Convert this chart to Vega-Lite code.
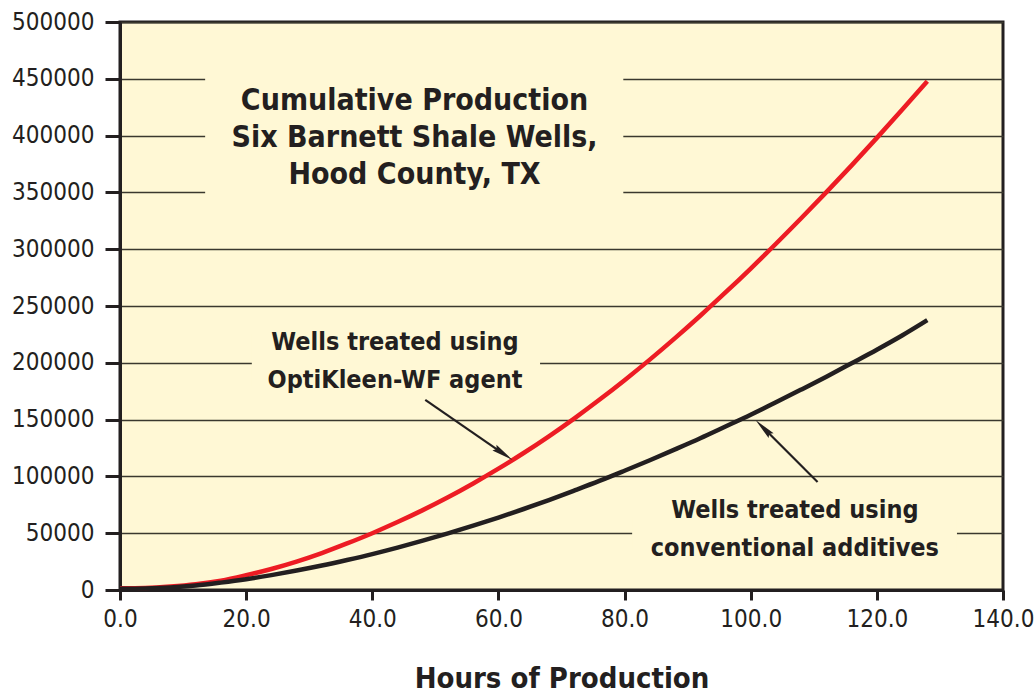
{
  "$schema": "https://vega.github.io/schema/vega-lite/v6.json",
  "width": 883,
  "height": 568,
  "autosize": "none",
  "padding": {"left": 120, "top": 22, "right": 32, "bottom": 108},
  "background": "#ffffff",
  "config": {
    "font": "DejaVu Sans Condensed, sans-serif",
    "view": {"fill": "#FFF8D5", "stroke": "#231F20", "strokeWidth": 3},
    "axis": {
      "labelFont": "DejaVu Sans Condensed, sans-serif",
      "titleFont": "DejaVu Sans Condensed, sans-serif",
      "labelColor": "#231F20",
      "titleColor": "#231F20",
      "domainColor": "#231F20",
      "tickColor": "#231F20",
      "domainWidth": 3,
      "tickWidth": 3,
      "labelFontSize": 24
    }
  },
  "datasets": {
    "curves": [
      {"hours": 0, "production": 1500, "series": "OptiKleen-WF"},
      {"hours": 4, "production": 1800, "series": "OptiKleen-WF"},
      {"hours": 8, "production": 3000, "series": "OptiKleen-WF"},
      {"hours": 12, "production": 5000, "series": "OptiKleen-WF"},
      {"hours": 16, "production": 8200, "series": "OptiKleen-WF"},
      {"hours": 20, "production": 13000, "series": "OptiKleen-WF"},
      {"hours": 24, "production": 18500, "series": "OptiKleen-WF"},
      {"hours": 28, "production": 25000, "series": "OptiKleen-WF"},
      {"hours": 32, "production": 32500, "series": "OptiKleen-WF"},
      {"hours": 36, "production": 41000, "series": "OptiKleen-WF"},
      {"hours": 40, "production": 50000, "series": "OptiKleen-WF"},
      {"hours": 44, "production": 59800, "series": "OptiKleen-WF"},
      {"hours": 48, "production": 70300, "series": "OptiKleen-WF"},
      {"hours": 52, "production": 81600, "series": "OptiKleen-WF"},
      {"hours": 56, "production": 93800, "series": "OptiKleen-WF"},
      {"hours": 60, "production": 106800, "series": "OptiKleen-WF"},
      {"hours": 64, "production": 120600, "series": "OptiKleen-WF"},
      {"hours": 68, "production": 135300, "series": "OptiKleen-WF"},
      {"hours": 72, "production": 150900, "series": "OptiKleen-WF"},
      {"hours": 76, "production": 167400, "series": "OptiKleen-WF"},
      {"hours": 80, "production": 184700, "series": "OptiKleen-WF"},
      {"hours": 84, "production": 202800, "series": "OptiKleen-WF"},
      {"hours": 88, "production": 221700, "series": "OptiKleen-WF"},
      {"hours": 92, "production": 241400, "series": "OptiKleen-WF"},
      {"hours": 96, "production": 261900, "series": "OptiKleen-WF"},
      {"hours": 100, "production": 283000, "series": "OptiKleen-WF"},
      {"hours": 104, "production": 304800, "series": "OptiKleen-WF"},
      {"hours": 108, "production": 327200, "series": "OptiKleen-WF"},
      {"hours": 112, "production": 350200, "series": "OptiKleen-WF"},
      {"hours": 116, "production": 373800, "series": "OptiKleen-WF"},
      {"hours": 120, "production": 398000, "series": "OptiKleen-WF"},
      {"hours": 124, "production": 422700, "series": "OptiKleen-WF"},
      {"hours": 128, "production": 447800, "series": "OptiKleen-WF"},
      {"hours": 0, "production": 1000, "series": "Conventional"},
      {"hours": 4, "production": 1300, "series": "Conventional"},
      {"hours": 8, "production": 2200, "series": "Conventional"},
      {"hours": 12, "production": 3900, "series": "Conventional"},
      {"hours": 16, "production": 6500, "series": "Conventional"},
      {"hours": 20, "production": 9500, "series": "Conventional"},
      {"hours": 24, "production": 13100, "series": "Conventional"},
      {"hours": 28, "production": 17100, "series": "Conventional"},
      {"hours": 32, "production": 21500, "series": "Conventional"},
      {"hours": 36, "production": 26400, "series": "Conventional"},
      {"hours": 40, "production": 31600, "series": "Conventional"},
      {"hours": 44, "production": 37300, "series": "Conventional"},
      {"hours": 48, "production": 43400, "series": "Conventional"},
      {"hours": 52, "production": 49800, "series": "Conventional"},
      {"hours": 56, "production": 56600, "series": "Conventional"},
      {"hours": 60, "production": 63800, "series": "Conventional"},
      {"hours": 64, "production": 71300, "series": "Conventional"},
      {"hours": 68, "production": 79200, "series": "Conventional"},
      {"hours": 72, "production": 87500, "series": "Conventional"},
      {"hours": 76, "production": 96000, "series": "Conventional"},
      {"hours": 80, "production": 105000, "series": "Conventional"},
      {"hours": 84, "production": 114200, "series": "Conventional"},
      {"hours": 88, "production": 123800, "series": "Conventional"},
      {"hours": 92, "production": 133600, "series": "Conventional"},
      {"hours": 96, "production": 143900, "series": "Conventional"},
      {"hours": 100, "production": 154300, "series": "Conventional"},
      {"hours": 104, "production": 165200, "series": "Conventional"},
      {"hours": 108, "production": 176400, "series": "Conventional"},
      {"hours": 112, "production": 187800, "series": "Conventional"},
      {"hours": 116, "production": 199600, "series": "Conventional"},
      {"hours": 120, "production": 211500, "series": "Conventional"},
      {"hours": 124, "production": 224000, "series": "Conventional"},
      {"hours": 128, "production": 237500, "series": "Conventional"}
    ],
    "boxes": [
      {"x1": 13.5, "x2": 79.8, "y1": 320000, "y2": 480000},
      {"x1": 20.9, "x2": 66.6, "y1": 180000, "y2": 225000},
      {"x1": 81.2, "x2": 132.7, "y1": 35000, "y2": 65000}
    ],
    "titleText": [
      {"x": 46.7, "y": 422500, "label": "Cumulative Production\nSix Barnett Shale Wells,\nHood County, TX"}
    ],
    "notes": [
      {"x": 43.6, "y": 211300, "label": "Wells treated using\nOptiKleen-WF agent"},
      {"x": 107.0, "y": 63400, "label": "Wells treated using\nconventional additives"}
    ],
    "arrows": [
      {"x1": 48.4, "y1": 167300, "x2": 60.8, "y2": 119900},
      {"x1": 110.6, "y1": 95100, "x2": 102.0, "y2": 142750}
    ],
    "head1": [{"x": 60.8, "y": 119900}],
    "head2": [{"x": 102.0, "y": 142750}]
  },
  "layer": [
    {
      "data": {"name": "curves"},
      "mark": {"type": "line", "interpolate": "monotone", "strokeWidth": 4.5, "strokeCap": "butt"},
      "encoding": {
        "x": {
          "field": "hours", "type": "quantitative",
          "scale": {"domain": [0, 140], "nice": false, "zero": false},
          "axis": {
            "values": [0, 20, 40, 60, 80, 100, 120, 140],
            "format": ".1f",
            "tickSize": 10,
            "labelPadding": 7,
            "labelFlush": false,
            "grid": false,
            "title": "Hours of Production",
            "titleFontSize": 29,
            "titleFontWeight": "bold",
            "titlePadding": 33
          }
        },
        "y": {
          "field": "production", "type": "quantitative",
          "scale": {"domain": [0, 500000], "nice": false},
          "axis": {
            "values": [0, 50000, 100000, 150000, 200000, 250000, 300000, 350000, 400000, 450000, 500000],
            "format": "d",
            "tickSize": 15,
            "labelPadding": 11,
            "labelFlush": false,
            "grid": true,
            "gridColor": "#3a382e",
            "gridWidth": 1.6,
            "title": null
          }
        },
        "color": {
          "field": "series", "type": "nominal",
          "scale": {"domain": ["OptiKleen-WF", "Conventional"], "range": ["#ED1C24", "#231F20"]},
          "legend": null
        }
      }
    },
    {
      "data": {"name": "boxes"},
      "mark": {"type": "rect", "fill": "#FFF8D5", "strokeWidth": 0},
      "encoding": {
        "x": {"field": "x1", "type": "quantitative"},
        "x2": {"field": "x2"},
        "y": {"field": "y1", "type": "quantitative"},
        "y2": {"field": "y2"}
      }
    },
    {
      "data": {"name": "titleText"},
      "mark": {"type": "text", "fontSize": 30, "fontWeight": "bold", "lineBreak": "\n", "lineHeight": 37, "baseline": "alphabetic", "align": "center", "color": "#231F20"},
      "encoding": {
        "x": {"field": "x", "type": "quantitative"},
        "y": {"field": "y", "type": "quantitative"},
        "text": {"field": "label"}
      }
    },
    {
      "data": {"name": "notes"},
      "mark": {"type": "text", "fontSize": 25, "fontWeight": "bold", "lineBreak": "\n", "lineHeight": 38, "baseline": "alphabetic", "align": "center", "color": "#231F20"},
      "encoding": {
        "x": {"field": "x", "type": "quantitative"},
        "y": {"field": "y", "type": "quantitative"},
        "text": {"field": "label"}
      }
    },
    {
      "data": {"name": "arrows"},
      "mark": {"type": "rule", "color": "#231F20", "strokeWidth": 2.2},
      "encoding": {
        "x": {"field": "x1", "type": "quantitative"},
        "y": {"field": "y1", "type": "quantitative"},
        "x2": {"field": "x2"},
        "y2": {"field": "y2"}
      }
    },
    {
      "data": {"name": "head1"},
      "mark": {"type": "point", "shape": "M0,-1L0.32,1L0,0.75L-0.32,1Z", "size": 484, "angle": 124.6, "filled": true, "color": "#231F20", "opacity": 1},
      "encoding": {
        "x": {"field": "x", "type": "quantitative"},
        "y": {"field": "y", "type": "quantitative"}
      }
    },
    {
      "data": {"name": "head2"},
      "mark": {"type": "point", "shape": "M0,-1L0.32,1L0,0.75L-0.32,1Z", "size": 484, "angle": 315, "filled": true, "color": "#231F20", "opacity": 1},
      "encoding": {
        "x": {"field": "x", "type": "quantitative"},
        "y": {"field": "y", "type": "quantitative"}
      }
    }
  ]
}
